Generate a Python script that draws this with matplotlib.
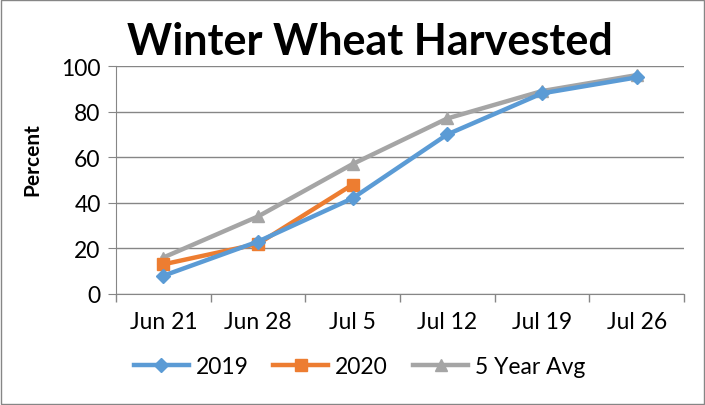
import numpy as np
import matplotlib
matplotlib.use("Agg")
import matplotlib.pyplot as plt
from matplotlib.ticker import FixedLocator, NullFormatter

weeks = ["Jun 21", "Jun 28", "Jul 5", "Jul 12", "Jul 19", "Jul 26"]
y2019 = [8, 23, 42, 70, 88, 95]
y2020 = [13, 22, 48]
avg5 = [16, 34, 57, 77, 89, 96]

plt.rcParams["font.family"] = ["Lato", "DejaVu Sans"]

fig = plt.figure(figsize=(7.05, 4.06), dpi=100)
ax = fig.add_axes([116/705, 1 - 295/406, 568/705, 228/406])

x = np.arange(len(weeks))
ax.plot(x, avg5, color="#a5a5a5", lw=3.2, marker="^", ms=9, label="5 Year Avg", zorder=3)
ax.plot(x[:len(y2020)], y2020, color="#ed7d31", lw=3.2, marker="s", ms=8, label="2020", zorder=4)
ax.plot(x, y2019, color="#5b9bd5", lw=3.2, marker="D", ms=7, label="2019", zorder=5)

ax.set_xlim(-0.5, len(weeks) - 0.5)
ax.set_ylim(0, 100)
ax.set_yticks(range(0, 101, 20))
ax.set_xticks(x)
ax.set_xticklabels(weeks, fontsize=16.5)
ax.xaxis.set_minor_locator(FixedLocator(np.arange(-0.5, len(weeks), 1)))
ax.xaxis.set_minor_formatter(NullFormatter())
ax.tick_params(axis="x", which="major", length=0, pad=12)
ax.tick_params(axis="x", which="minor", length=6, color="#868686", width=1)
ax.tick_params(axis="y", length=6, color="#868686", labelsize=16.5, pad=5)
ax.grid(axis="y", color="#868686", lw=1)
ax.set_axisbelow(True)
for s in ("top", "right"):
    ax.spines[s].set_visible(False)
for s in ("left", "bottom"):
    ax.spines[s].set_color("#868686")

fig.text(32/705, 1 - 160/406, "Percent", fontsize=15, weight="bold",
         rotation=90, ha="center", va="center")
fig.text(0.525, 1 - 42/406, "Winter Wheat Harvested", fontsize=31, weight="bold",
         ha="center", va="center")

h, l = ax.get_legend_handles_labels()
order = [2, 1, 0]
ax.legend([h[i] for i in order], [l[i] for i in order], loc="center",
          bbox_to_anchor=(0.51, 1 - 368/406), bbox_transform=fig.transFigure,
          ncol=3, frameon=False, fontsize=16.5, handlelength=2.4, columnspacing=1.1,
          handletextpad=0.3)

fig.patches.append(plt.Rectangle((0.002, 0.003), 0.996, 0.994, transform=fig.transFigure,
                                 fill=False, edgecolor="#868686", lw=1))
fig.savefig("out.png", dpi=100)
